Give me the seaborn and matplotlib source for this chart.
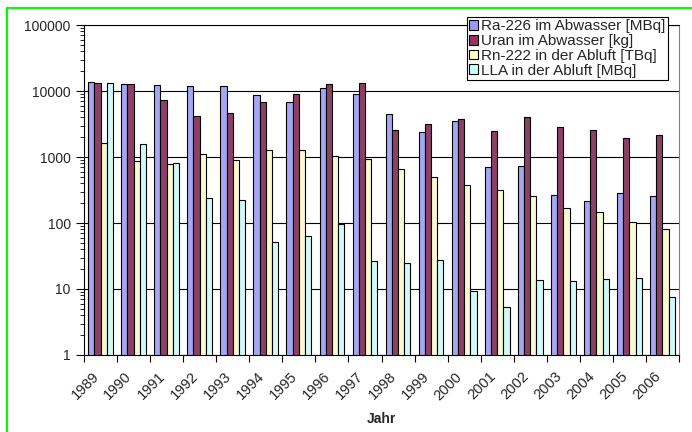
import numpy as np
import pandas as pd
import matplotlib
matplotlib.use('Agg')
import matplotlib.pyplot as plt
import matplotlib.ticker as mticker
import matplotlib.transforms as mtransforms
import seaborn as sns

# data (log scale)
years = [str(y) for y in range(1989, 2007)]
ra226 = [13700, 12800, 12400, 11700, 11900, 8700, 6900, 11100, 8900, 4500,
         2400, 3460, 705, 730, 262, 215, 285, 260]
uran = [13200, 12800, 7300, 4200, 4700, 6900, 8900, 12600, 13000, 2600,
        3120, 3820, 2450, 4070, 2880, 2570, 1960, 2180]
rn222 = [1630, 870, 790, 1110, 900, 1260, 1280, 1035, 940, 660,
         490, 380, 315, 260, 167, 147, 105, 80]
lla = [13400, 1570, 800, 240, 225, 51, 64, 98, 27, 25,
       27.5, 9.4, 5.3, 13.8, 13.2, 14.0, 14.7, 7.5]

series = ['Ra-226 im Abwasser [MBq]', 'Uran im Abwasser [kg]',
          'Rn-222 in der Abluft [TBq]', 'LLA in der Abluft [MBq]']
colors = ['#9999FF', '#993366', '#FFFFCC', '#CCFFFF']

df = pd.DataFrame({'Jahr': years * 4,
                   'Wert': ra226 + uran + rn222 + lla,
                   'Serie': sum([[s] * len(years) for s in series], [])})

sns.set_style('white')
plt.rcParams['font.family'] = ['Liberation Sans', 'DejaVu Sans']

fig = plt.figure(figsize=(6.92, 4.32), dpi=100)
ax = fig.add_axes([84/692, 1-355/432, (679-84)/692, (355-25)/432])

sns.barplot(data=df, x='Jahr', y='Wert', hue='Serie', palette=colors,
            width=0.75, gap=0, edgecolor='black', linewidth=0.8,
            ax=ax, legend=True)
ax.set_yscale('log')
ax.set_ylim(1, 100000)
ax.set_xlim(-0.5, len(years) - 0.5)

ax.yaxis.set_major_locator(mticker.LogLocator(base=10, numticks=10))
ax.yaxis.set_major_formatter(mticker.FuncFormatter(lambda v, p: f'{int(round(v))}'))
ax.yaxis.set_minor_locator(mticker.LogLocator(base=10, subs=np.arange(2, 10), numticks=10))
ax.yaxis.set_minor_formatter(mticker.NullFormatter())
ax.tick_params(axis='y', which='major', length=6, width=0.8, color='black',
               labelsize=10, direction='out', left=True)
ax.tick_params(axis='y', which='minor', length=3, width=0.6, color='black',
               direction='out', left=True)
ax.set_axisbelow(True)
ax.grid(True, axis='y', which='major', color='black', linewidth=0.8)
ax.grid(False, axis='x')

ax.set_xticks(np.arange(-0.5, len(years)), minor=True)
ax.tick_params(axis='x', which='minor', length=5, width=0.8, color='black',
               direction='out', bottom=True)
ax.tick_params(axis='x', which='major', length=0, pad=14, labelsize=10.5)
ax.set_xticklabels(years, rotation=45, ha='right', va='center', rotation_mode='anchor')
shift = mtransforms.ScaledTranslation(-4/100, 0, fig.dpi_scale_trans)
for lab in ax.get_xticklabels():
    lab.set_transform(lab.get_transform() + shift)

ax.set_xlabel('Jahr', fontsize=10, fontweight='bold', labelpad=7)
ax.set_ylabel('')

for side in ['left', 'bottom', 'top']:
    ax.spines[side].set_color('black')
    ax.spines[side].set_linewidth(0.8)
ax.spines['right'].set_color('#808080')
ax.spines['right'].set_linewidth(0.8)

ax.get_legend().remove()
handles = [plt.Rectangle((0, 0), 1, 1, facecolor=c, edgecolor='black', linewidth=0.8)
           for c in colors]
leg = fig.legend(handles, series, loc='upper right',
                 bbox_to_anchor=(668/692, 1-17/432), fontsize=11,
                 frameon=True, fancybox=False, framealpha=1, edgecolor='black',
                 borderpad=0.15, labelspacing=0.05, handlelength=0.6,
                 handleheight=0.6, handletextpad=0.2, borderaxespad=0)
leg.get_frame().set_linewidth(0.8)

# green frame around the chart (right and bottom edges are cut off in the original)
fig.add_artist(plt.Line2D([7/692, 7/692], [0, 1-8/432], transform=fig.transFigure,
                          color='#00FF00', linewidth=1.5))
fig.add_artist(plt.Line2D([7/692, 1], [1-8/432, 1-8/432], transform=fig.transFigure,
                          color='#00FF00', linewidth=1.5))

fig.savefig('out.png', dpi=100)
